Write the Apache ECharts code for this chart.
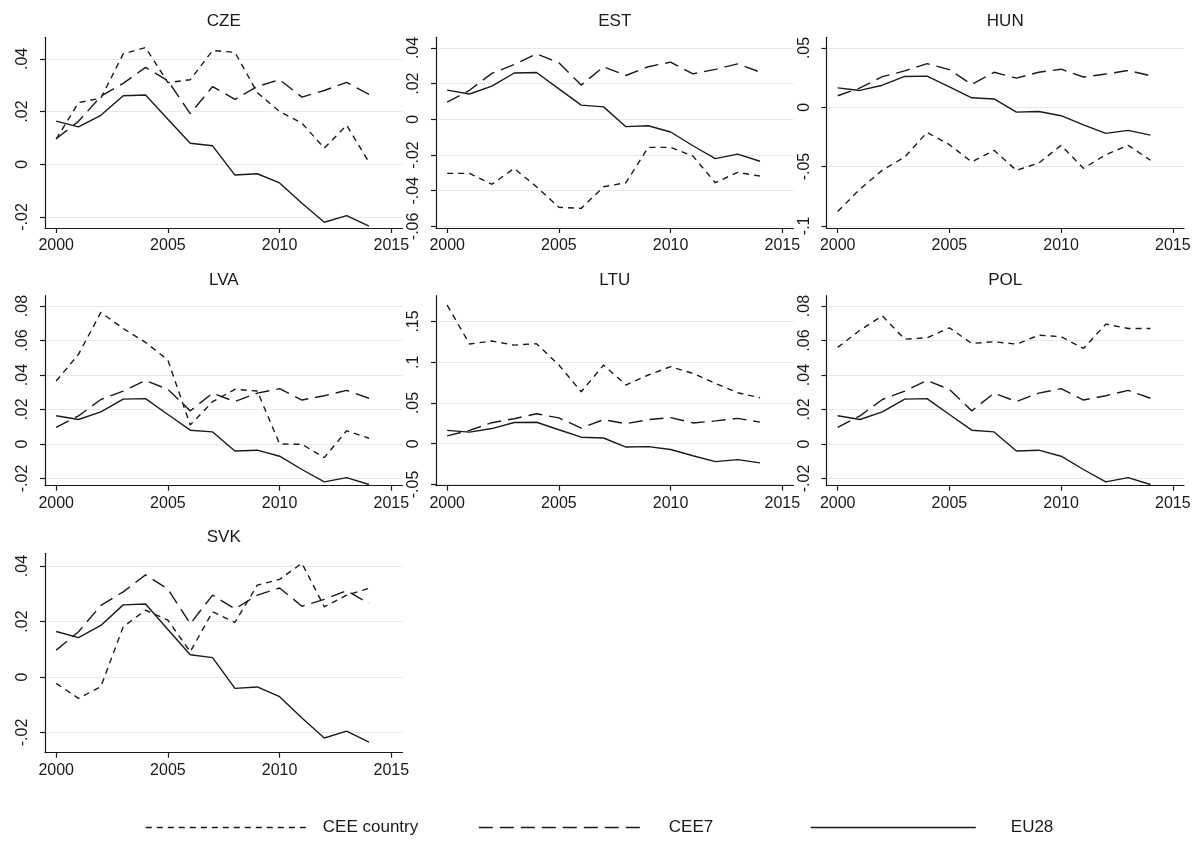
<!DOCTYPE html>
<html>
<head>
<meta charset="utf-8">
<title>CEE country vs CEE7 vs EU28</title>
<script src="https://cdn.jsdelivr.net/npm/echarts@6/dist/echarts.min.js"></script>
<style>
  html, body { margin: 0; padding: 0; background: #fff; }
  #chart { width: 1199px; height: 843px; }
</style>
</head>
<body>
<div id="chart"></div>
<script>
// data
const years = [2000, 2001, 2002, 2003, 2004, 2005, 2006, 2007, 2008, 2009, 2010, 2011, 2012, 2013, 2014];
const eu28 = [0.0164, 0.0142, 0.0186, 0.0260, 0.0263, 0.0171, 0.0080, 0.0070, -0.0041, -0.0036, -0.0071, -0.0148, -0.0220, -0.0195, -0.0235];
const cee7 = [0.0097, 0.0163, 0.0258, 0.0307, 0.0368, 0.0317, 0.0192, 0.0295, 0.0246, 0.0295, 0.0321, 0.0255, 0.0280, 0.0311, 0.0265];

const cze = [0.0095, 0.0234, 0.0251, 0.0419, 0.0443, 0.0310, 0.0321, 0.0432, 0.0425, 0.0272, 0.0200, 0.0156, 0.0061, 0.0148, 0.0008];
const est = [-0.0303, -0.0303, -0.0364, -0.0275, -0.0378, -0.0493, -0.0499, -0.0378, -0.0355, -0.0157, -0.0157, -0.0206, -0.0355, -0.0297, -0.0318];
const hun = [-0.0878, -0.0690, -0.0530, -0.0420, -0.0212, -0.0315, -0.0461, -0.0363, -0.0532, -0.0470, -0.0321, -0.0515, -0.0400, -0.0321, -0.0447];
const lva = [0.0365, 0.0520, 0.0763, 0.0670, 0.0589, 0.0487, 0.0110, 0.0245, 0.0317, 0.0307, 0.0000, -0.0002, -0.0079, 0.0077, 0.0033];
const ltu = [0.1700, 0.1223, 0.1260, 0.1210, 0.1227, 0.0965, 0.0638, 0.0965, 0.0720, 0.0843, 0.0945, 0.0863, 0.0740, 0.0626, 0.0564];
const pol = [0.0560, 0.0660, 0.0743, 0.0608, 0.0616, 0.0674, 0.0583, 0.0593, 0.0579, 0.0631, 0.0622, 0.0554, 0.0695, 0.0670, 0.0670];
const svk = [-0.0023, -0.0077, -0.0035, 0.0181, 0.0241, 0.0205, 0.0091, 0.0235, 0.0197, 0.0331, 0.0352, 0.0410, 0.0253, 0.0295, 0.0320];

const panelNames = ['CZE', 'EST', 'HUN', 'LVA', 'LTU', 'POL', 'SVK'];
const panelValues = [cze, est, hun, lva, ltu, pol, svk];
const seriesNames = ['CEE country', 'CEE7', 'EU28'];

// tick labels
const xTicks = [2000, 2005, 2010, 2015];
const czeTicks = [-0.02, 0, 0.02, 0.04];
const estTicks = [-0.06, -0.04, -0.02, 0, 0.02, 0.04];
const hunTicks = [-0.1, -0.05, 0, 0.05];
const lvaTicks = [-0.02, 0, 0.02, 0.04, 0.06, 0.08];
const ltuTicks = [-0.05, 0, 0.05, 0.1, 0.15];
const polTicks = [-0.02, 0, 0.02, 0.04, 0.06, 0.08];
const svkTicks = [-0.02, 0, 0.02, 0.04];
const panelTicks = [czeTicks, estTicks, hunTicks, lvaTicks, ltuTicks, polTicks, svkTicks];

// y ranges of each plot region
const yMin = [-0.0242, -0.0609, -0.1018, -0.0242, -0.0515, -0.0242, -0.0273];
const yMax = [0.0482, 0.0460, 0.0590, 0.0860, 0.1816, 0.0860, 0.0446];

const FONT = '"Liberation Sans", Arial, Helvetica, sans-serif';
const INK = '#1a1a1a';

// grid layout (3 columns, 3 rows)
const colLeft = [45, 436, 826.5];
const colWidth = 357.5;
const rowTop = [37.3, 295.7, 553.3];
const rowHeight = [190.7, 190, 199.4];

// legend layout: one block per key
const legendLeft = [145, 478, 810];
const legendTextGap = [7, 20, 30];
const dashes = [[6, 5], [14, 7], 'solid'];

function fmtY(v) {
  let s = String(+v.toFixed(3));
  return s.replace(/^(-?)0\./, '$1.');
}

let grids = [], xAxes = [], yAxes = [], titles = [], series = [];

panelNames.forEach(function (name, i) {
  let c = i % 3, r = Math.floor(i / 3);
  grids.push({ left: colLeft[c], top: rowTop[r], width: colWidth, height: rowHeight[r], containLabel: false });
  titles.push({
    text: name,
    left: colLeft[c] + colWidth / 2,
    top: rowTop[r] - 24,
    textAlign: 'center',
    padding: 0,
    textStyle: { fontSize: 17, fontWeight: 'normal', color: INK, fontFamily: FONT }
  });
  xAxes.push({
    type: 'value', gridIndex: i, min: 1999.5, max: 2015.5,
    axisLine: { show: true, onZero: false, lineStyle: { color: INK, width: 1.2 } },
    axisTick: { show: true, customValues: xTicks, length: 5, lineStyle: { color: INK, width: 1.2 } },
    axisLabel: { customValues: xTicks, margin: 10, fontSize: 16, color: INK, fontFamily: FONT, formatter: function (v) { return String(v); } },
    splitLine: { show: false }
  });
  yAxes.push({
    type: 'value', gridIndex: i, min: yMin[i], max: yMax[i],
    axisLine: { show: true, onZero: false, lineStyle: { color: INK, width: 1.2 } },
    axisTick: { show: true, customValues: panelTicks[i], length: 5, lineStyle: { color: INK, width: 1.2 } },
    axisLabel: { customValues: panelTicks[i], rotate: 90, margin: 14, fontSize: 16, color: INK, fontFamily: FONT, formatter: fmtY },
    splitLine: { show: true, lineStyle: { color: '#e2eaec', width: 1.2 } }
  });

  let values = [panelValues[i], cee7, eu28];
  seriesNames.forEach(function (sn, k) {
    series.push({
      name: sn,
      type: 'line',
      xAxisIndex: i,
      yAxisIndex: i,
      symbol: 'none',
      animation: false,
      lineStyle: { color: INK, width: 1.4, type: dashes[k] },
      itemStyle: { color: INK },
      data: years.map(function (y, j) { return [y, values[k][j]]; })
    });
  });
});

let legends = seriesNames.map(function (sn, k) {
  return {
    data: [sn],
    left: legendLeft[k],
    top: 819,
    padding: 0,
    itemWidth: 165,
    itemHeight: 20,
    itemStyle: { opacity: 0 },
    lineStyle: { width: 1.6 },
    selectedMode: false,
    textStyle: { fontSize: 17, color: INK, fontFamily: FONT, padding: [0, 0, 0, legendTextGap[k]] }
  };
});

let myChart = echarts.init(document.getElementById('chart'));
let option = {
  backgroundColor: '#fff',
  animation: false,
  textStyle: { fontFamily: FONT },
  title: titles,
  grid: grids,
  xAxis: xAxes,
  yAxis: yAxes,
  legend: legends,
  series: series
};
myChart.setOption(option);
</script>
</body>
</html>
